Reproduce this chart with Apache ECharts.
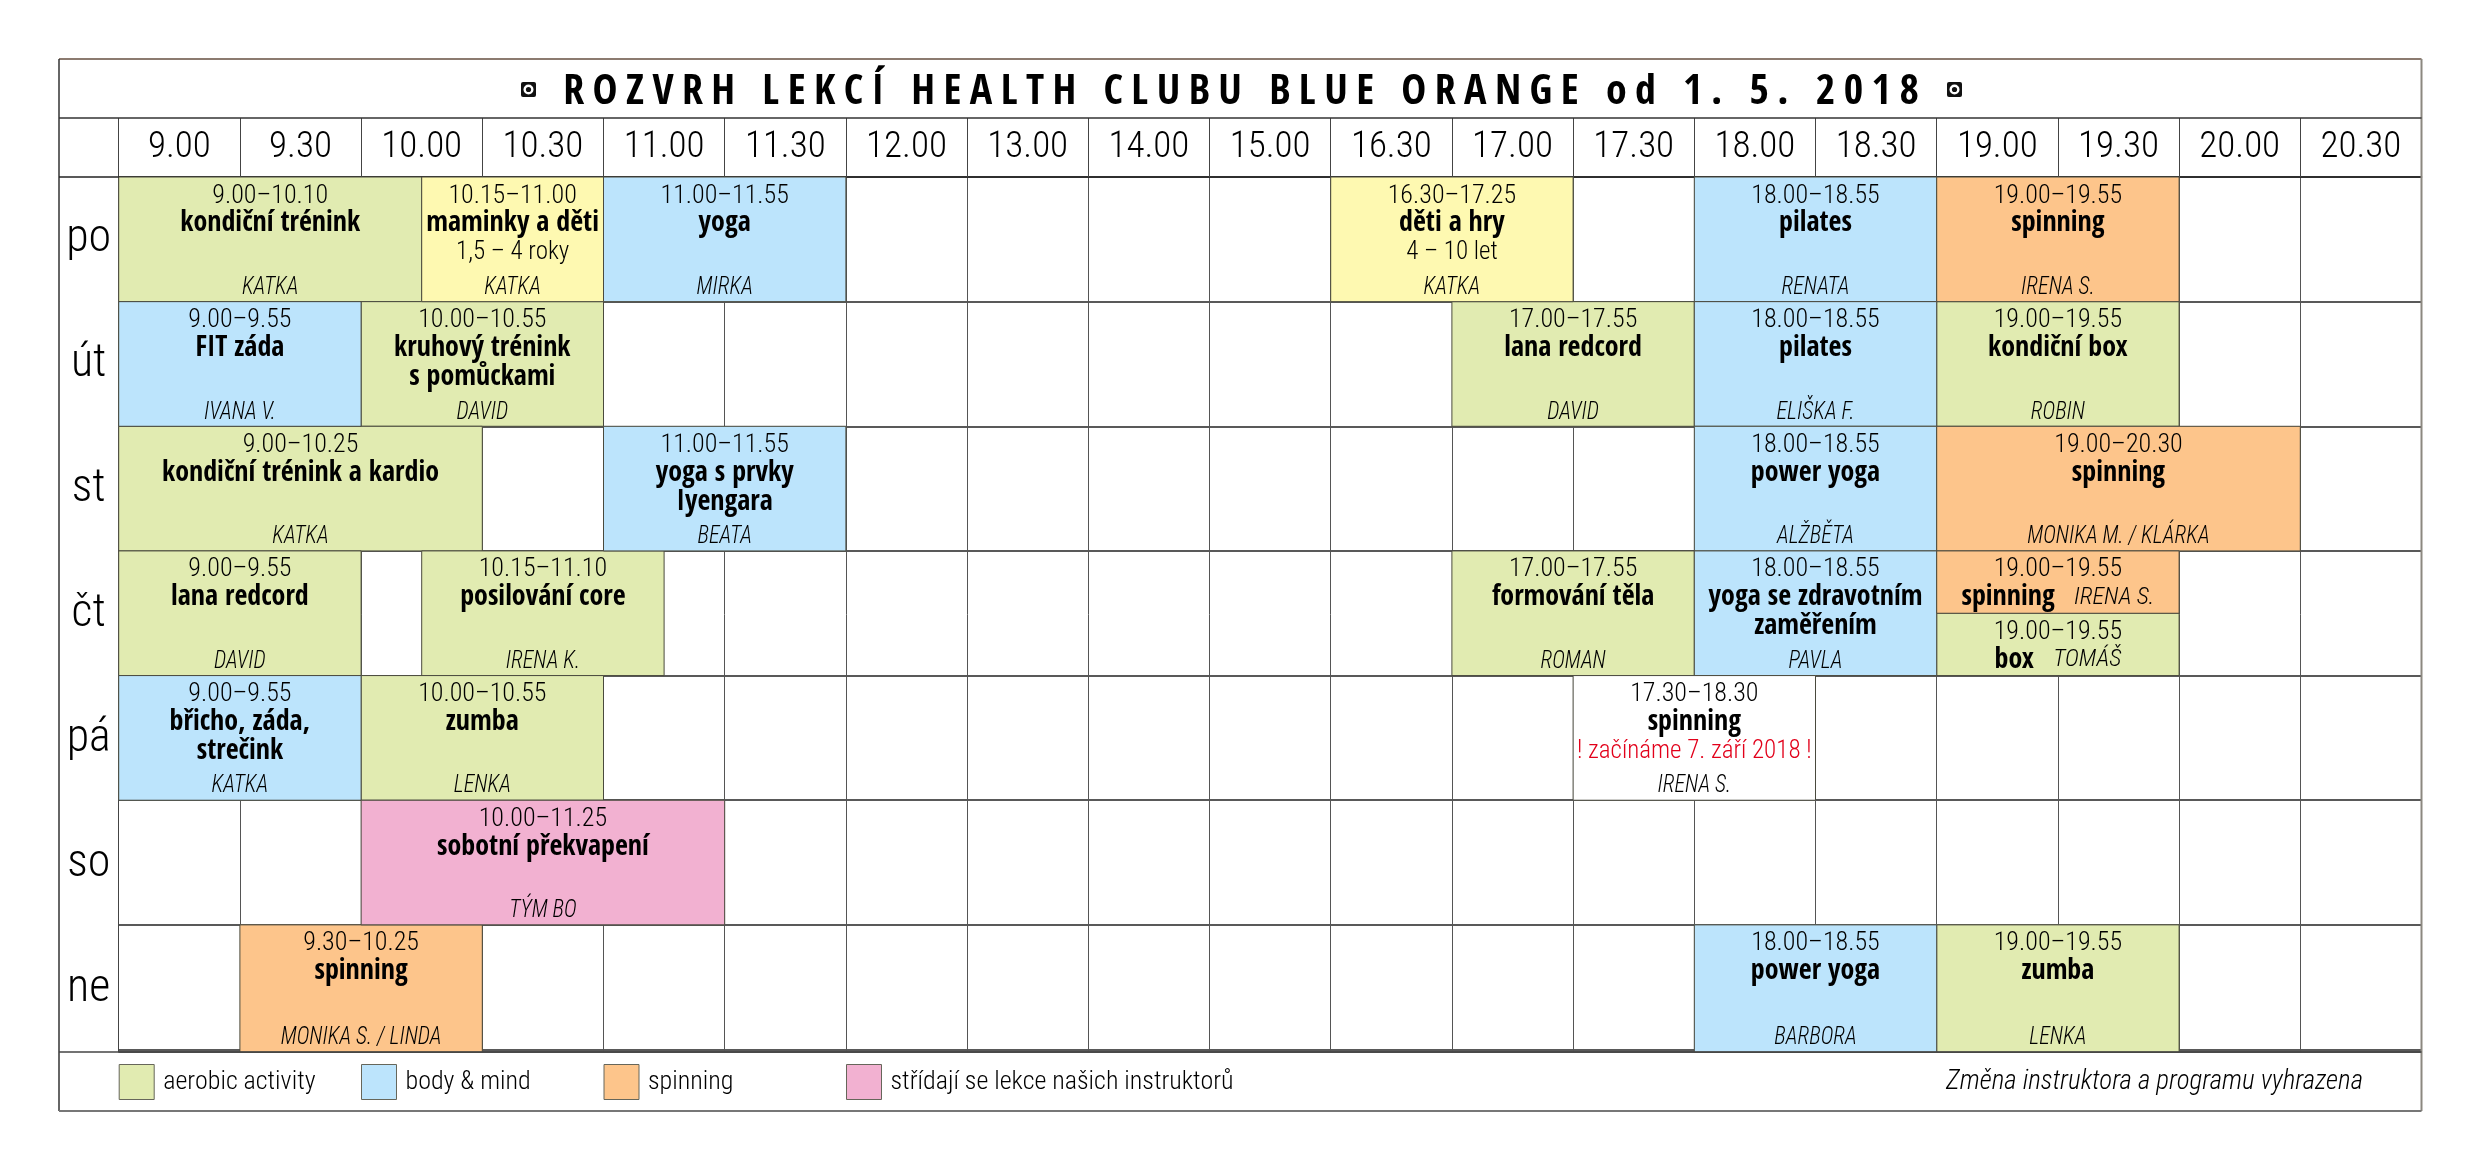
<!DOCTYPE html>
<html>
<head>
<meta charset="utf-8">
<title>Rozvrh lekcí</title>
<style>
html, body { margin: 0; padding: 0; background: #fff; }
#id-div-chart { width: 2481px; height: 1170px; }
</style>
<script src="https://cdn.jsdelivr.net/npm/echarts@6/dist/echarts.min.js"></script>
</head>
<body>
<div id="id-div-chart"></div>
<script>
var e = (selector) => document.querySelector(selector)

var titleText = 'ROZVRH LEKCÍ HEALTH CLUBU BLUE ORANGE od 1. 5. 2018'
var noteText = 'Změna instruktora a programu vyhrazena'

var slots = ['9.00', '9.30', '10.00', '10.30', '11.00', '11.30', '12.00', '13.00', '14.00', '15.00',
    '16.30', '17.00', '17.30', '18.00', '18.30', '19.00', '19.30', '20.00', '20.30']
var days = ['po', 'út', 'st', 'čt', 'pá', 'so', 'ne']

// rowTop, rowBottom, slotStart, slotEnd, time, name, coach, poznamka
var aerobicSessions = [
    [0, 1, 0, 2.5, '9.00–10.10', 'kondiční trénink', 'KATKA'],
    [1, 2, 2, 4, '10.00–10.55', 'kruhový trénink\ns pomůckami', 'DAVID'],
    [1, 2, 11, 13, '17.00–17.55', 'lana redcord', 'DAVID'],
    [1, 2, 15, 17, '19.00–19.55', 'kondiční box', 'ROBIN'],
    [2, 3, 0, 3, '9.00–10.25', 'kondiční trénink a kardio', 'KATKA'],
    [3, 4, 0, 2, '9.00–9.55', 'lana redcord', 'DAVID'],
    [3, 4, 2.5, 4.5, '10.15–11.10', 'posilování core', 'IRENA K.'],
    [3, 4, 11, 13, '17.00–17.55', 'formování těla', 'ROMAN'],
    [3.5, 4, 15, 17, '19.00–19.55', 'box', 'TOMÁŠ'],
    [4, 5, 2, 4, '10.00–10.55', 'zumba', 'LENKA'],
    [6, 7.02, 15, 17, '19.00–19.55', 'zumba', 'LENKA'],
]
var bodySessions = [
    [0, 1, 4, 6, '11.00–11.55', 'yoga', 'MIRKA'],
    [0, 1, 13, 15, '18.00–18.55', 'pilates', 'RENATA'],
    [1, 2, 0, 2, '9.00–9.55', 'FIT záda', 'IVANA V.'],
    [1, 2, 13, 15, '18.00–18.55', 'pilates', 'ELIŠKA F.'],
    [2, 3, 4, 6, '11.00–11.55', 'yoga s prvky\nIyengara', 'BEATA'],
    [2, 3, 13, 15, '18.00–18.55', 'power yoga', 'ALŽBĚTA'],
    [3, 4, 13, 15, '18.00–18.55', 'yoga se zdravotním\nzaměřením', 'PAVLA'],
    [4, 5, 0, 2, '9.00–9.55', 'břicho, záda,\nstrečink', 'KATKA'],
    [6, 7.02, 13, 15, '18.00–18.55', 'power yoga', 'BARBORA'],
]
var spinningSessions = [
    [0, 1, 15, 17, '19.00–19.55', 'spinning', 'IRENA S.'],
    [2, 3, 15, 18, '19.00–20.30', 'spinning', 'MONIKA M. / KLÁRKA'],
    [3, 3.5, 15, 17, '19.00–19.55', 'spinning', 'IRENA S.'],
    [6, 7.02, 1, 3, '9.30–10.25', 'spinning', 'MONIKA S. / LINDA'],
]
var mixedSessions = [
    [5, 6, 2, 5, '10.00–11.25', 'sobotní překvapení', 'TÝM BO'],
]
var kidsSessions = [
    [0, 1, 2.5, 4, '10.15–11.00', 'maminky a děti', 'KATKA', '1,5 – 4 roky'],
    [0, 1, 10, 12, '16.30–17.25', 'děti a hry', 'KATKA', '4 – 10 let'],
]
var plainSessions = [
    [4, 5, 12, 14, '17.30–18.30', 'spinning', 'IRENA S.', '! začínáme 7. září 2018 !'],
]

var condensed = '"Roboto Condensed", "Liberation Sans", sans-serif'
var heavy = '"Open Sans Condensed", "Roboto Condensed", sans-serif'
var colorAerobic = '#e1ebb1'
var colorBody = '#bce4fc'
var colorSpinning = '#fdc58b'
var colorMixed = '#f2b1d1'
var colorKids = '#fef9b1'
var colorPlain = '#ffffff'
var colorEdge = '#4a4a3e'

var textItem = function(text, x, y, family, size, weight, slant, fill) {
    return {
        type: 'text',
        x: x,
        y: y,
        style: {
            text: text,
            textAlign: 'center',
            textVerticalAlign: 'middle',
            fontFamily: family,
            fontSize: size,
            fontWeight: weight,
            fontStyle: slant,
            fill: fill,
        },
    }
}

var sessionRenderer = function(list, noteColor) {
    return function(params, api) {
        var s = list[params.dataIndex]
        var a = api.coord([s[2], s[0]])
        var b = api.coord([s[3], s[1]])
        var cx = (a[0] + b[0]) / 2
        var children = [{
            type: 'rect',
            shape: { x: a[0], y: a[1], width: b[0] - a[0], height: b[1] - a[1] },
            style: api.style({ stroke: colorEdge, lineWidth: 1 }),
        }]
        children.push(textItem(s[4], cx, a[1] + 19, condensed, 26, 300, 'normal', '#000'))
        var half = s[1] - s[0] < 1
        if (half) {
            // polovina radku: jmeno instruktora je na stejne lince
            var line = textItem('{n|' + s[5] + '}   {c|' + s[6] + '}', cx, a[1] + 47, condensed, 28, 'normal', 'normal', '#000')
            line.style.rich = {
                n: { fontFamily: heavy, fontSize: 28, fontWeight: 'normal', fill: '#000' },
                c: { fontFamily: condensed, fontSize: 24, fontWeight: 300, fontStyle: 'italic', fill: '#000' },
            }
            children.push(line)
        } else {
            s[5].split('\n').forEach(function(name, i) {
                children.push(textItem(name, cx, a[1] + 47 + i * 29, heavy, 28, 'normal', 'normal', '#000'))
            })
            if (s[7]) {
                children.push(textItem(s[7], cx, a[1] + 76, condensed, 25, 300, 'normal', noteColor))
            }
            var coach = textItem(s[6], cx, b[1] - 14, condensed, 25, 300, 'italic', '#000')
            coach.scaleX = 0.88
            children.push(coach)
        }
        return { type: 'group', children: children }
    }
}

var sessionSeries = function(name, list, color, noteColor) {
    return {
        name: name,
        type: 'custom',
        xAxisIndex: 0,
        yAxisIndex: 0,
        itemStyle: { color: color },
        encode: { x: [2, 3], y: [0, 1] },
        data: list.map((s) => s.slice(0, 4)),
        renderItem: sessionRenderer(list, noteColor),
        z: 5,
    }
}

var legendAt = function(name, color, left) {
    return {
        left: left,
        top: 1064,
        padding: 0,
        itemWidth: 35,
        itemHeight: 35,
        selectedMode: false,
        data: [{
            name: name,
            icon: 'rect',
            itemStyle: { color: color, borderColor: '#66665a', borderWidth: 1 },
        }],
        textStyle: { fontFamily: condensed, fontSize: 26, fontWeight: 300, color: '#000', padding: [2, 0, 0, 4] },
    }
}

var frameLine = function(x1, y1, x2, y2, color, width) {
    return {
        type: 'line',
        shape: { x1: x1, y1: y1, x2: x2, y2: y2 },
        style: { stroke: color, lineWidth: width },
        z: 10,
    }
}

// ten maly znak vedle nadpisu
var titleMark = function(x, y) {
    return {
        type: 'group',
        x: x,
        y: y,
        z: 10,
        children: [
            { type: 'rect', shape: { x: 0, y: 0, width: 15, height: 15, r: 2 }, style: { fill: '#111' } },
            { type: 'circle', shape: { cx: 7.5, cy: 7.5, r: 5 }, style: { fill: '#fff' } },
            { type: 'circle', shape: { cx: 7.5, cy: 7.5, r: 2.6 }, style: { fill: '#111' } },
        ],
    }
}

var chartOption = function() {
    return {
        animation: false,
        backgroundColor: '#fff',
        title: [
            {
                text: titleText.split('').join('\u2009'),
                left: 1236,
                top: 67,
                textAlign: 'center',
                textStyle: { fontFamily: heavy, fontSize: 42, fontWeight: 'normal', color: '#000' },
            },
            {
                text: noteText,
                left: 1941,
                top: 1064,
                textStyle: { fontFamily: condensed, fontSize: 27, fontWeight: 300, fontStyle: 'italic', color: '#000' },
            },
        ],
        grid: { left: 118.7, right: 59.5, top: 177, height: 875 },
        xAxis: [
            { type: 'value', min: 0, max: 19, show: false },
            {
                type: 'category',
                position: 'top',
                data: slots,
                axisLine: { lineStyle: { color: '#222', width: 1.5 } },
                axisTick: { show: true, length: 59, interval: 0, lineStyle: { color: '#444', width: 1 } },
                axisLabel: { interval: 0, margin: 11, fontFamily: condensed, fontSize: 37, fontWeight: 300, color: '#000' },
                splitLine: { show: true, interval: 0, lineStyle: { color: '#555', width: 1 } },
            },
        ],
        yAxis: [
            {
                type: 'value',
                inverse: true,
                min: 0,
                max: 7.02,
                interval: 1,
                axisLine: { show: false },
                axisTick: { show: false },
                axisLabel: { show: false },
                splitLine: { show: true, lineStyle: { color: '#222', width: 1.5 } },
            },
            {
                type: 'category',
                inverse: true,
                position: 'left',
                data: days,
                axisLine: { show: true, lineStyle: { color: '#444', width: 1 } },
                axisTick: { show: false },
                axisLabel: { interval: 0, margin: 30, align: 'center', fontFamily: condensed, fontSize: 46, fontWeight: 300, color: '#000', padding: [0, 0, 6, 0] },
                splitLine: { show: false },
            },
        ],
        legend: [
            legendAt('aerobic activity', colorAerobic, 118.7),
            legendAt('body & mind', colorBody, 361),
            legendAt('spinning', colorSpinning, 603.5),
            legendAt('střídají se lekce našich instruktorů', colorMixed, 846),
        ],
        series: [
            sessionSeries('aerobic activity', aerobicSessions, colorAerobic, '#000'),
            sessionSeries('body & mind', bodySessions, colorBody, '#000'),
            sessionSeries('spinning', spinningSessions, colorSpinning, '#000'),
            sessionSeries('střídají se lekce našich instruktorů', mixedSessions, colorMixed, '#000'),
            sessionSeries('děti', kidsSessions, colorKids, '#000'),
            sessionSeries('otevřené', plainSessions, colorPlain, '#e2001a'),
        ],
        graphic: [
            frameLine(59, 59, 2421.5, 59, '#8c7b70', 2),
            frameLine(2421.5, 59, 2421.5, 1111, '#8c8880', 2),
            frameLine(59, 59, 59, 1111, '#333', 1.5),
            frameLine(59, 1111, 2421.5, 1111, '#777', 2),
            frameLine(59, 118, 2421.5, 118, '#333', 1.5),
            frameLine(59, 177, 118.7, 177, '#222', 1.5),
            frameLine(59, 1052, 2421.5, 1052, '#444', 1.5),
            titleMark(521, 82),
            titleMark(1947, 82),
        ],
    }
}

var __main = function() {
    var chart = echarts.init(e('#id-div-chart'))
    chart.setOption(chartOption())
}

__main()
</script>
</body>
</html>
